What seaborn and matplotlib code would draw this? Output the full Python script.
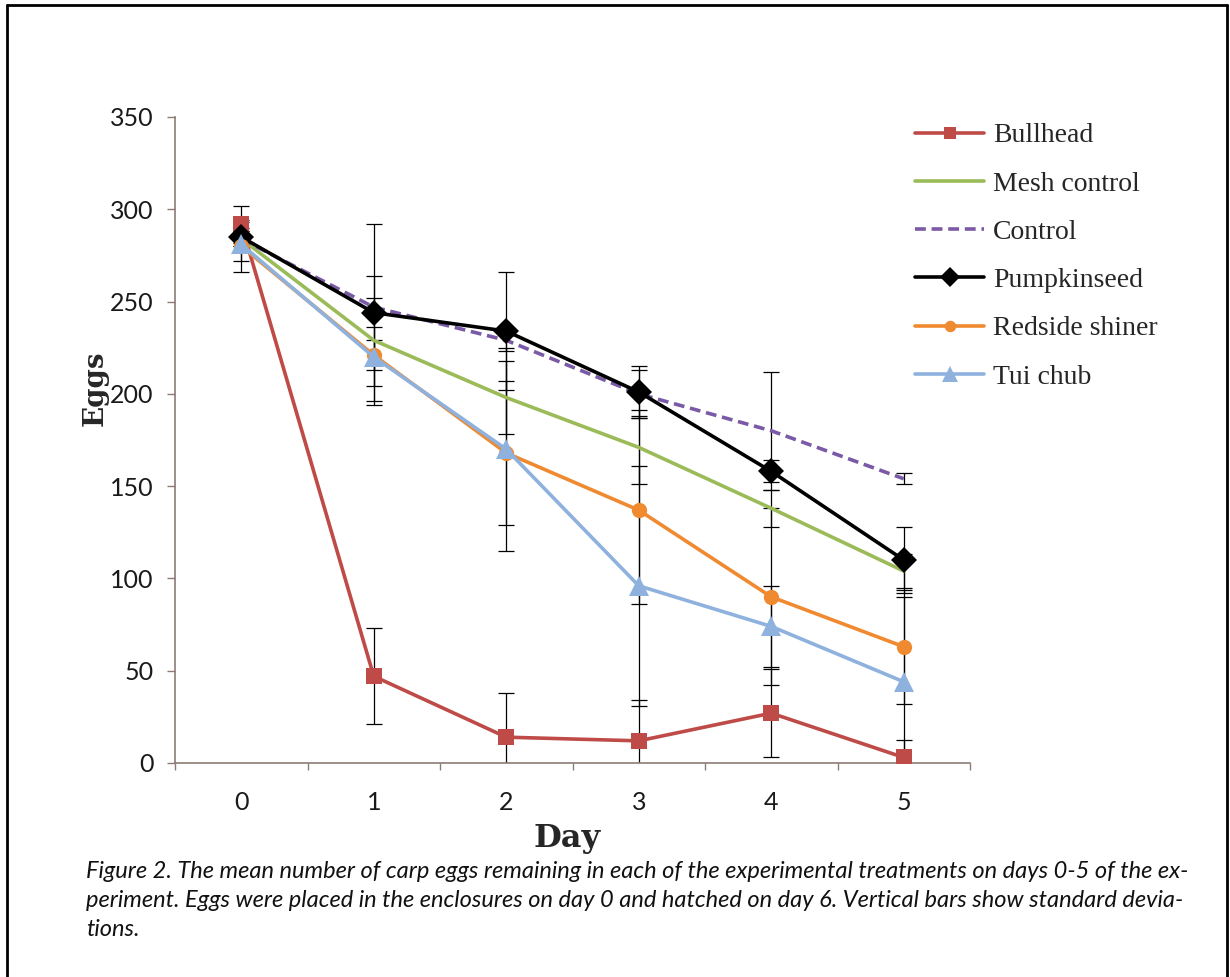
import matplotlib
matplotlib.use("Agg")
import matplotlib.pyplot as plt
from matplotlib.lines import Line2D
from matplotlib.ticker import MultipleLocator, FixedLocator
import pandas as pd
import seaborn as sns

days = [0, 1, 2, 3, 4, 5]

names = ["Bullhead", "Mesh control", "Control", "Pumpkinseed", "Redside shiner", "Tui chub"]

bullhead = [292, 47, 14, 12, 27, 3]
bullheadSd = [10, 26, 24, 22, 24, 9.5]
meshControl = [284, 229, 198, 171, 138, 104]
meshControlSd = [4, 35, 20, 20, 10, 9]
control = [284, 247, 229, 200, 180, 154]
controlSd = [4, 5, 6, 13, 32, 3]
pumpkinseed = [285, 244, 234, 201, 158, 110]
pumpkinseedSd = [8, 48, 32, 14, 6, 18]
redside = [280, 221, 168, 137, 90, 63]
redsideSd = [14, 8, 39, 51, 48, 31]
tuiChub = [281, 220, 170, 96, 74, 44]
tuiChubSd = [9, 16, 55, 65, 22, 46]

means = [bullhead, meshControl, control, pumpkinseed, redside, tuiChub]
sds = [bullheadSd, meshControlSd, controlSd, pumpkinseedSd, redsideSd, tuiChubSd]

colours = ["#BE4B48", "#9BBB59", "#7A5AA6", "#000000", "#F08A30", "#8EB1DE"]
markers = ["s", None, None, "D", "o", "^"]
markerSizes = [11, 0, 0, 13, 11, 15]
styles = ["-", "-", (0, (3, 1.6)), "-", "-", "-"]

caption = [
    "Figure 2. The mean number of carp eggs remaining in each of the experimental treatments on days 0-5 of the ex-",
    "periment. Eggs were placed in the enclosures on day 0 and hatched on day 6. Vertical bars show standard devia-",
    "tions.",
]

sns.set_style("white")
plt.rcParams["font.family"] = ["Lato", "DejaVu Sans"]

W, H = 1230, 977
fig = plt.figure(figsize=(W / 100, H / 100), dpi=100)
ax = fig.add_axes([175 / W, 1 - 763 / H, 795 / W, 646 / H])

# error bars first so they sit under the lines
for i in range(len(names)):
    ax.errorbar(days, means[i], yerr=sds[i], fmt="none", ecolor="black",
                elinewidth=0.9, capsize=6, capthick=0.9, zorder=2)

for i in range(len(names)):
    frame = pd.DataFrame({"day": days, "eggs": means[i]})
    sns.lineplot(data=frame, x="day", y="eggs", ax=ax, color=colours[i],
                 linewidth=2.6, linestyle=styles[i], marker=markers[i],
                 markersize=markerSizes[i], markeredgewidth=0,
                 label=names[i], zorder=3 + i, legend=False)

ax.set_xlim(-0.5, 5.5)
ax.set_ylim(0, 350)
ax.yaxis.set_major_locator(MultipleLocator(50))
ax.xaxis.set_major_locator(FixedLocator(days))
ax.xaxis.set_minor_locator(FixedLocator([d + 0.5 for d in range(-1, 6)]))
ax.set_xlabel("")
ax.set_ylabel("")

spineColour = "#8c7b75"
for side in ["top", "right"]:
    ax.spines[side].set_visible(False)
for side in ["left", "bottom"]:
    ax.spines[side].set_color(spineColour)
    ax.spines[side].set_linewidth(1.2)

ax.tick_params(axis="y", which="major", direction="out", length=5.5, width=1,
               color=spineColour, pad=10, labelsize=18, left=True)
ax.tick_params(axis="x", which="major", length=0, pad=20, labelsize=18, bottom=True)
ax.tick_params(axis="x", which="minor", direction="out", length=5, width=1,
               color=spineColour, bottom=True)
for lab in ax.get_xticklabels() + ax.get_yticklabels():
    lab.set_color("#1a1a1a")

fig.text(95 / W, 1 - 388 / H, "Eggs", rotation=90, ha="center", va="center",
         fontsize=20, fontweight="bold", family="DejaVu Serif")
fig.text(567 / W, 1 - 838 / H, "Day", ha="center", va="center",
         fontsize=23, fontweight="bold", family="DejaVu Serif")

handles = []
for i in range(len(names)):
    handles.append(Line2D([], [], color=colours[i], linewidth=2.6, linestyle=styles[i],
                          marker=markers[i] if markers[i] else "",
                          markersize=markerSizes[i] * 0.75, markeredgewidth=0))
fig.legend(handles, names, loc="upper left", bbox_to_anchor=(915 / W, 1 - 123 / H),
           frameon=False, borderpad=0, borderaxespad=0, handlelength=2.5,
           handletextpad=0.3, labelspacing=0.82,
           prop={"family": "Liberation Serif", "size": 20})

baselines = [878, 907, 936]
for line, yb in zip(caption, baselines):
    fig.text(86 / W, 1 - yb / H, line, ha="left", va="baseline", fontsize=17,
             style="italic", color="#111111")

# page frame round the figure
frameKw = dict(color="black", linewidth=2, transform=fig.transFigure)
fig.add_artist(Line2D([7 / W, 7 / W], [0, 1 - 5 / H], **frameKw))
fig.add_artist(Line2D([7 / W, 1227 / W], [1 - 5 / H, 1 - 5 / H], **frameKw))
fig.add_artist(Line2D([1227 / W, 1227 / W], [0, 1 - 5 / H], **frameKw))

fig.savefig("out.png", dpi=100)
